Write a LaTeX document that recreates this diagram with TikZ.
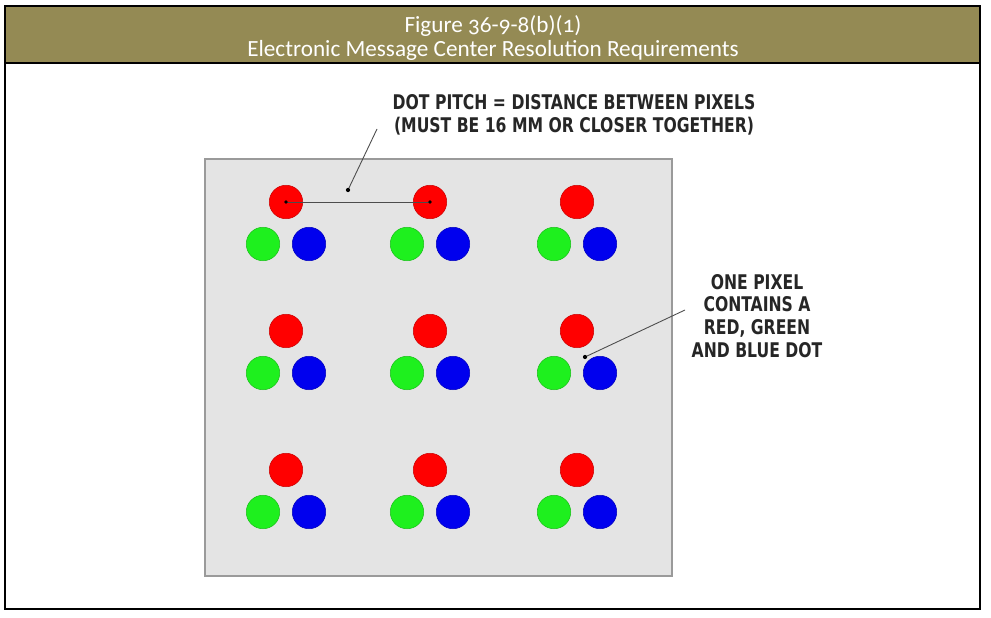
\documentclass[tikz,border=0pt]{standalone}
\usepackage{fontspec}
\setmainfont{Carlito}[Numbers=OldStyle]
\newfontfamily\calloutfont{DejaVu Sans Condensed}[FakeStretch=0.86]
\usetikzlibrary{positioning}
\definecolor{headolive}{HTML}{948A54}
\definecolor{panelgray}{HTML}{E4E4E4}
\definecolor{paneledge}{HTML}{9A9A9A}
\definecolor{dotred}{HTML}{FF0000}
\definecolor{dotgreen}{HTML}{1EF01E}
\definecolor{dotblue}{HTML}{0000EE}
\tikzset{
  led/.style={circle,minimum size=0.67cm,inner sep=0pt,draw=#1!80!black,line width=0.3pt,fill=#1},
  callout/.style={font=\calloutfont\bfseries\fontsize{11.5}{13}\selectfont,align=center,text=black!85},
  leader/.style={draw=black!70,line width=0.5pt},
}
\begin{document}
\begin{tikzpicture}[x=0.02cm,y=-0.02cm]
  \useasboundingbox (0,0) rectangle (991,618);
  % header band and frame
  \fill[headolive] (5,6) rectangle (980,63);
  \draw[line width=1.3pt] (5,6) rectangle (980,609);
  \draw[line width=1.3pt] (5,63) -- (980,63);
  \node[text=white,font=\fontsize{13.2}{15}\selectfont] (title1) at (493,26) {Figure 36-9-8(b)(1)};
  \node[text=white,font=\fontsize{13.2}{15}\selectfont] (title2) at (493,50) {Electronic Message Center Resolution Requirements};
  % sign panel
  \filldraw[fill=panelgray,draw=paneledge,line width=0.8pt] (205,159) rectangle (672,576);
  \foreach \col/\cx in {1/286,2/430,3/577}
    \foreach \row/\cy in {1/202,2/331,3/470} {
      \node[led=dotred] (r\row\col) at (\cx,\cy) {};
      \node[led=dotgreen] (g\row\col) at (\cx-23,\cy+42) {};
      \node[led=dotblue] (b\row\col) at (\cx+23,\cy+42) {};
    }
  % dot pitch
  \draw[leader] (r11.center) -- (r12.center);
  \fill[black] (r11.center) circle (1pt) (r12.center) circle (1pt);
  \node[callout] (pitchlabel) at (574,115) {DOT PITCH = DISTANCE BETWEEN PIXELS\\(MUST BE 16 MM OR CLOSER TOGETHER)};
  \coordinate (pitchfrom) at (377,129);
  \coordinate (pitchtip) at (348,190);
  \draw[leader] (pitchfrom) -- (pitchtip);
  \fill[black] (pitchtip) circle (1.2pt);
  % one pixel
  \node[callout] (pixellabel) at (757,316) {ONE PIXEL\\CONTAINS A\\RED, GREEN\\AND BLUE DOT};
  \coordinate (pixelfrom) at (685,310);
  \coordinate (pixeltip) at (585,357);
  \draw[leader] (pixelfrom) -- (pixeltip);
  \fill[black] (pixeltip) circle (1.2pt);
\end{tikzpicture}
\end{document}
